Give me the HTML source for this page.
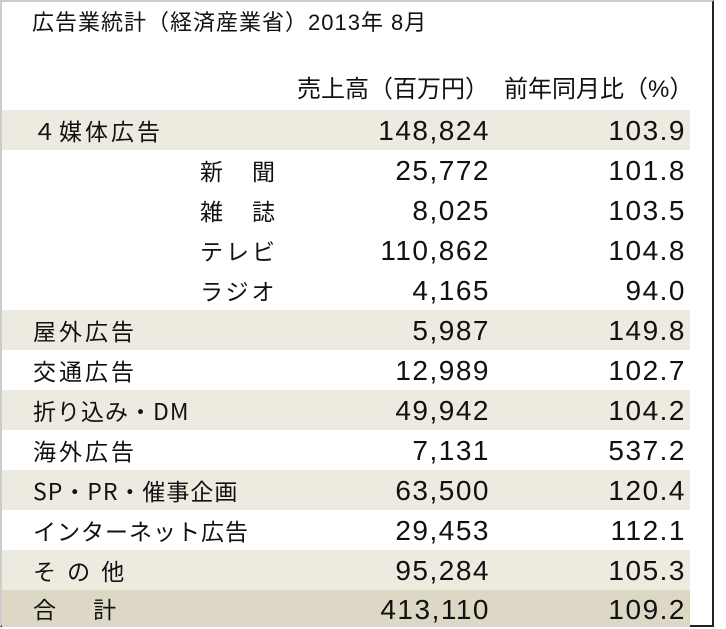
<!DOCTYPE html>
<html><head><meta charset="utf-8"><style>
body{margin:0;width:726px;height:629px;background:#fff;overflow:hidden;font-family:"Liberation Sans","Noto Sans CJK JP",sans-serif;color:#111;position:relative}
.frame{position:absolute;left:0;top:0;width:714px;height:627px;border-right:2px solid #222;border-bottom:2px solid #222;border-top:2px solid #ccc;border-left:2px solid #ccc;box-sizing:border-box}
.t{position:absolute;left:32px;top:5px;font-size:22px;letter-spacing:1px}
.h{position:absolute;top:75px;font-size:24px;line-height:30px}
.r{position:absolute;left:2px;width:688px;height:40px;font-size:23px}
.r span{position:absolute;top:0;line-height:40px;white-space:pre}
.a{left:31px;letter-spacing:3px;font-family:"Noto Sans CJK JP",sans-serif}
.b,.c{font-size:28px;top:1px!important;letter-spacing:1.5px}
.b{right:200px}.c{right:4px}
.s{background:#edeae0}.tot{background:#ddd8c5}
</style></head><body>
<div class="frame"></div>
<div class="t">広告業統計（経済産業省）2013年 8月</div>
<div class="h" style="left:297px">売上高（百万円）</div>
<div class="h" style="left:504px">前年同月比（%）</div>
<div class="r s" style="top:110px"><span class="a">４媒体広告</span><span class="b">148,824</span><span class="c">103.9</span></div>
<div class="r" style="top:150px"><span class="a" style="left:198px">新　聞</span><span class="b">25,772</span><span class="c">101.8</span></div>
<div class="r" style="top:190px"><span class="a" style="left:198px">雑　誌</span><span class="b">8,025</span><span class="c">103.5</span></div>
<div class="r" style="top:230px"><span class="a" style="left:198px">テレビ</span><span class="b">110,862</span><span class="c">104.8</span></div>
<div class="r" style="top:270px"><span class="a" style="left:198px">ラジオ</span><span class="b">4,165</span><span class="c">94.0</span></div>
<div class="r s" style="top:310px"><span class="a">屋外広告</span><span class="b">5,987</span><span class="c">149.8</span></div>
<div class="r" style="top:350px"><span class="a">交通広告</span><span class="b">12,989</span><span class="c">102.7</span></div>
<div class="r s" style="top:390px"><span class="a" style="letter-spacing:1px">折り込み・DM</span><span class="b">49,942</span><span class="c">104.2</span></div>
<div class="r" style="top:430px"><span class="a">海外広告</span><span class="b">7,131</span><span class="c">537.2</span></div>
<div class="r s" style="top:470px"><span class="a" style="letter-spacing:1px">SP・PR・催事企画</span><span class="b">63,500</span><span class="c">120.4</span></div>
<div class="r" style="top:510px"><span class="a" style="letter-spacing:1px">インターネット広告</span><span class="b">29,453</span><span class="c">112.1</span></div>
<div class="r s" style="top:550px"><span class="a">そ の 他</span><span class="b">95,284</span><span class="c">105.3</span></div>
<div class="r tot" style="top:590px;height:37px"><span class="a" style="line-height:37px">合　 計</span><span class="b" style="line-height:37px">413,110</span><span class="c" style="line-height:37px">109.2</span></div>
</body></html>
